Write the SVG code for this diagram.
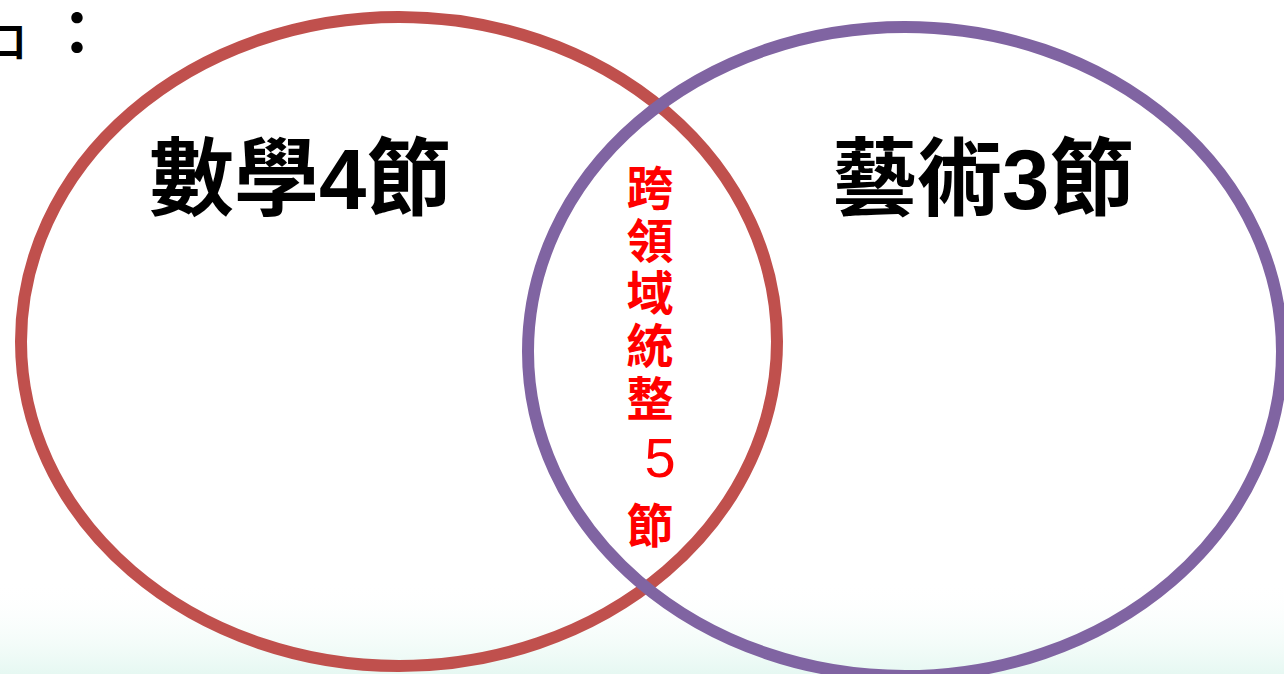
<svg xmlns="http://www.w3.org/2000/svg" width="1284" height="674" viewBox="0 0 1284 674">
<defs>
<linearGradient id="haze" x1="0" y1="0" x2="0" y2="1">
<stop offset="0" stop-color="#ffffff" stop-opacity="0"/>
<stop offset="1" stop-color="#e6f8f2" stop-opacity="1"/>
</linearGradient>
<style>
.big{font-family:"Liberation Sans","Noto Sans CJK TC",sans-serif;font-weight:bold;font-size:85px;fill:#000}
.red{font-family:"Liberation Sans","Noto Sans CJK TC",sans-serif;font-weight:bold;font-size:47px;fill:#FF0000;text-anchor:middle}
.num{font-weight:normal;font-size:56px}
.ring{fill:none;stroke-width:12}
</style>
</defs>
<rect x="0" y="0" width="1284" height="674" fill="#ffffff"/>
<rect x="0" y="580" width="1284" height="94" fill="url(#haze)"/>
<g id="corner">
<text x="-14" y="56" font-family="'Noto Sans CJK TC',sans-serif" font-size="40" font-weight="bold">口</text>
<text x="47" y="55" font-family="'Noto Sans CJK TC',sans-serif" font-size="60" font-weight="bold">：</text>
</g>
<g id="math">
<ellipse class="ring" cx="399" cy="341.5" rx="378" ry="324.5" stroke="#C0504D"/>
<text class="big" x="149" y="209">數學4節</text>
</g>
<g id="art">
<ellipse class="ring" cx="905" cy="351.5" rx="377" ry="324.5" stroke="#8064A2"/>
<text class="big" x="832" y="209">藝術3節</text>
</g>
<g id="overlap">
<text class="red" x="650" y="205">跨</text>
<text class="red" x="650" y="258">領</text>
<text class="red" x="650" y="310">域</text>
<text class="red" x="650" y="363">統</text>
<text class="red" x="650" y="416">整</text>
<text class="red num" x="660" y="477">5</text>
<text class="red" x="650" y="543">節</text>
</g>
<g id="connectors"/>
</svg>
